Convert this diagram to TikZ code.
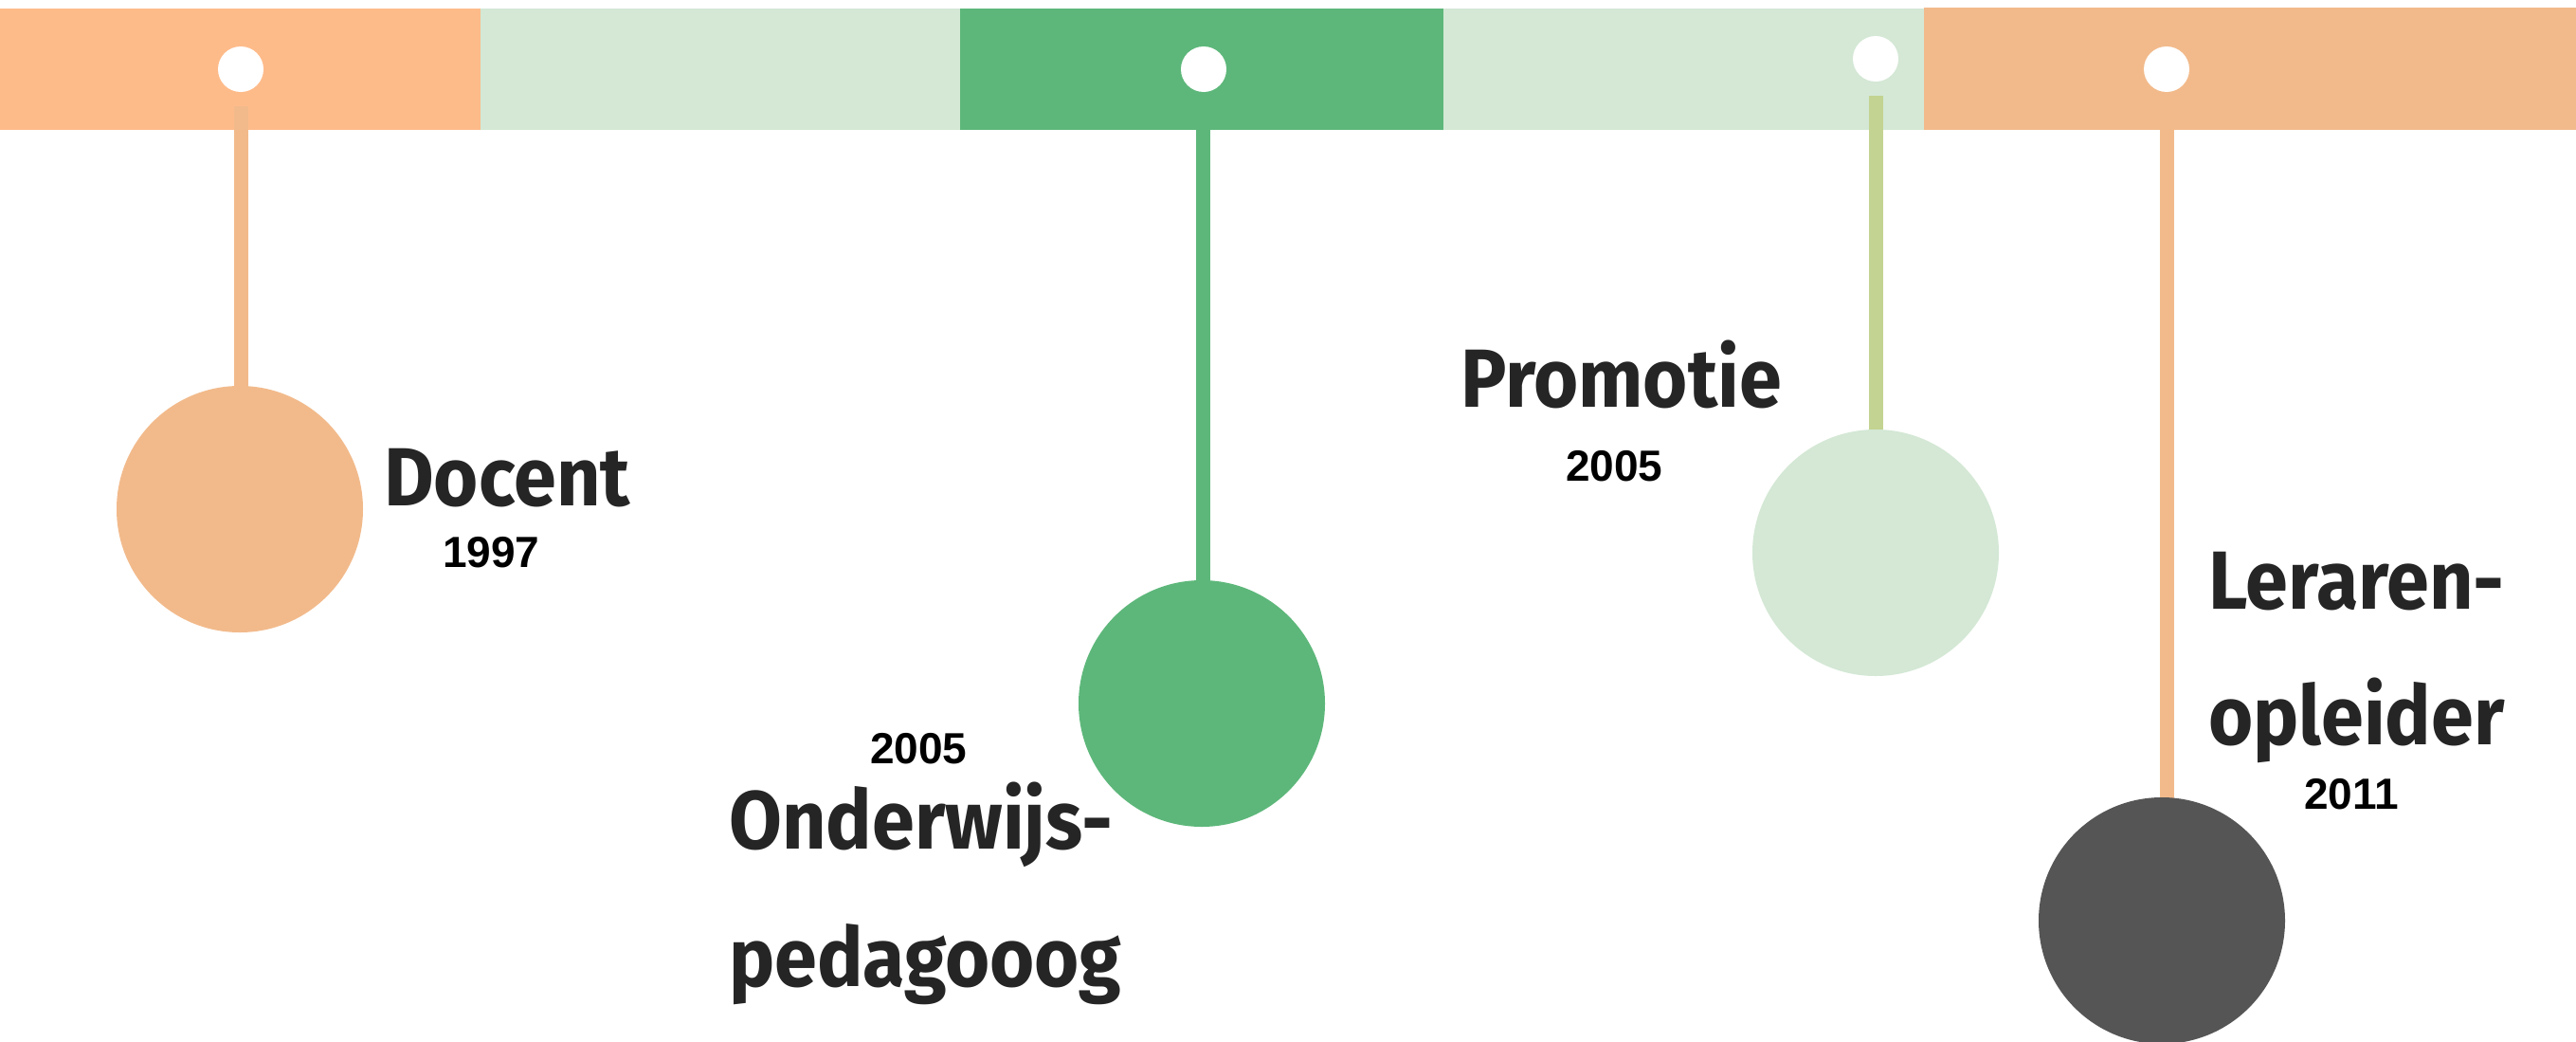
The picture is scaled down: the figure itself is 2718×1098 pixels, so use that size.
\documentclass[tikz,border=0pt]{standalone}
\usepackage{fontspec}
\usetikzlibrary{backgrounds}
\setmainfont{Fira Sans}
\newfontfamily\titlefont[FakeStretch=0.93]{Fira Sans}
\newfontfamily\yearfont{Liberation Sans}
\definecolor{orangeA}{HTML}{FEBB8A}
\definecolor{orangeB}{HTML}{F2BA8B}
\definecolor{lightgreen}{HTML}{D4E8D5}
\definecolor{midgreen}{HTML}{5DB77A}
\definecolor{olivegreen}{HTML}{C3D391}
\definecolor{darkgray}{HTML}{555555}
\definecolor{titlegray}{HTML}{252525}
\begin{document}
\begin{tikzpicture}[x=1pt,y=-1pt,
  dotnode/.style={circle,fill=white,draw=none,minimum size=48pt,inner sep=0pt},
  bignode/.style={circle,draw=none,minimum size=260pt,inner sep=0pt},
  stem/.style={line width=15pt},
  title/.style={font=\titlefont\fontsize{87}{100}\selectfont\bfseries,text=titlegray,inner sep=0pt,anchor=base west},
  year/.style={font=\yearfont\fontsize{46}{50}\selectfont\bfseries,text=black,inner sep=0pt,anchor=base west}]
\useasboundingbox (0,0) rectangle (2718,1098);
% circles
\node[bignode,fill=orangeB] (c1) at (253,537) {};
\node[bignode,fill=midgreen] (c2) at (1268,742) {};
\node[bignode,fill=lightgreen] (c3) at (1979,583) {};
\node[bignode,fill=darkgray] (c4) at (2281,971) {};
% stem start points
\coordinate (s1) at (254,112);
\coordinate (s2) at (1269,137);
\coordinate (s3) at (1979,101);
\coordinate (s4) at (2286,137);
\begin{scope}[on background layer]
\fill[white] (0,0) rectangle (2718,1098);
% bar segments
\fill[orangeA] (0,9) rectangle (507,137);
\fill[lightgreen] (507,9) rectangle (1013,137);
\fill[midgreen] (1013,9) rectangle (1523,137);
\fill[lightgreen] (1523,9) rectangle (2030,137);
\fill[orangeB] (2030,8) rectangle (2718,137);
% stems
\draw[stem,orangeB] (s1) -- (s1 |- c1.center);
\draw[stem,midgreen] (s2) -- (s2 |- c2.center);
\draw[stem,olivegreen] (s3) -- (s3 |- c3.center);
\draw[stem,orangeB] (s4) -- (s4 |- c4.center);
\end{scope}
% dots
\node[dotnode] (d1) at (254,73) {};
\node[dotnode] (d2) at (1270,73) {};
\node[dotnode] (d3) at (1979,62) {};
\node[dotnode] (d4) at (2286,73) {};
% texts
\node[title] (t1) at (405,533) {Docent};
\node[year] (y1) at (467,598) {1997};
\node[title] (t3) at (1541,429) {Promotie};
\node[year] (y3) at (1652,507) {2005};
\node[year] (y2) at (918,805) {2005};
\node[title] (t2a) at (769,895) {Onderwijs-};
\node[title] (t2b) at (769,1040) {pedagooog};
\node[title] (t4a) at (2330,642) {Leraren-};
\node[title] (t4b) at (2330,785) {opleider};
\node[year] (y4) at (2431,853) {2011};
\end{tikzpicture}
\end{document}
